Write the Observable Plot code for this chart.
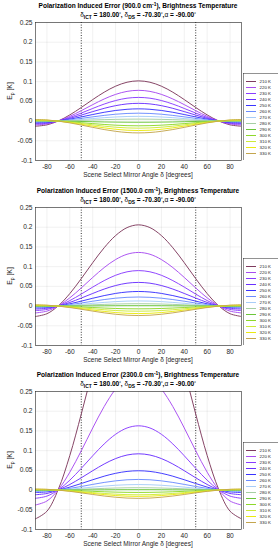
<!DOCTYPE html>
<html><head><meta charset="utf-8">
<script src="https://cdn.jsdelivr.net/npm/d3@7"></script>
<script src="https://cdn.jsdelivr.net/npm/@observablehq/plot@0.6"></script>
<style>
body{margin:0;background:#fff;}
#root{position:relative;width:278px;height:550px;overflow:hidden;font-family:"Liberation Sans",Arial,Helvetica,sans-serif;color:#000;background:#fff;}
.t{position:absolute;white-space:nowrap;line-height:1;transform:translate(-50%,-50%);}
.title{font-weight:bold;font-size:6.55px;color:#000;}
.xl{font-size:6.5px;color:#262626;}
.yl{font-size:6.8px;color:#262626;transform:translate(-50%,-50%) rotate(-90deg);}
sub{font-size:75%;vertical-align:-0.4em;line-height:0;}
.abs{position:absolute;}
</style></head><body><div id="root"></div>
<script>
// ---- data ----
const angles = [-90,-80,-70,-60,-50,-40,-30,-20,-10,0,10,20,30,40,50,60,70,80,90];
const temps = ["210 K","220 K","230 K","240 K","250 K","260 K","270 K","280 K","290 K","300 K","310 K","320 K","330 K"];
const tempColors = ["#7f3b5e","#a84cf0","#8a3cff","#6a30ff","#3a34ff","#6b8cff","#a8cdf8","#a6cfa3","#6cc63a","#8ed82a","#cdea3a","#eaea10","#c4a64e"];
const xTicks = [-80,-60,-40,-20,0,20,40,60,80];
const yTicks = [-0.1,-0.05,0,0.05,0.1,0.15,0.2,0.25];
const dsAngles = [-50, 50];
const wavenumbers = ["900.0","1500.0","2300.0"];

const err900 = [
 [-0.0131,-0.0096,0.0004,0.0157,0.0345,0.0545,0.0732,0.0885,0.0985,0.102,0.0985,0.0885,0.0732,0.0545,0.0345,0.0157,0.0004,-0.0096,-0.0131],
 [-0.0100,-0.0073,0.0003,0.0120,0.0264,0.0417,0.0560,0.0677,0.0753,0.078,0.0753,0.0677,0.0560,0.0417,0.0264,0.0120,0.0003,-0.0073,-0.0100],
 [-0.0077,-0.0056,0.0002,0.0092,0.0203,0.0320,0.0431,0.0521,0.0580,0.060,0.0580,0.0521,0.0431,0.0320,0.0203,0.0092,0.0002,-0.0056,-0.0077],
 [-0.0058,-0.0042,0.0002,0.0069,0.0152,0.0240,0.0323,0.0391,0.0435,0.045,0.0435,0.0391,0.0323,0.0240,0.0152,0.0069,0.0002,-0.0042,-0.0058],
 [-0.0040,-0.0029,0.0001,0.0048,0.0105,0.0166,0.0223,0.0269,0.0299,0.031,0.0299,0.0269,0.0223,0.0166,0.0105,0.0048,0.0001,-0.0029,-0.0040],
 [-0.0026,-0.0019,0.0001,0.0031,0.0068,0.0107,0.0144,0.0174,0.0193,0.020,0.0193,0.0174,0.0144,0.0107,0.0068,0.0031,0.0001,-0.0019,-0.0026],
 [-0.0015,-0.0011,0.0000,0.0018,0.0041,0.0064,0.0086,0.0104,0.0116,0.012,0.0116,0.0104,0.0086,0.0064,0.0041,0.0018,0.0000,-0.0011,-0.0015],
 [-0.0006,-0.0005,0.0000,0.0008,0.0017,0.0027,0.0036,0.0043,0.0048,0.005,0.0048,0.0043,0.0036,0.0027,0.0017,0.0008,0.0000,-0.0005,-0.0006],
 [0.0004,0.0003,0.0000,-0.0005,-0.0010,-0.0016,-0.0022,-0.0026,-0.0029,-0.003,-0.0029,-0.0026,-0.0022,-0.0016,-0.0010,-0.0005,0.0000,0.0003,0.0004],
 [0.0015,0.0011,0.0000,-0.0018,-0.0041,-0.0064,-0.0086,-0.0104,-0.0116,-0.012,-0.0116,-0.0104,-0.0086,-0.0064,-0.0041,-0.0018,0.0000,0.0011,0.0015],
 [0.0023,0.0017,-0.0001,-0.0028,-0.0061,-0.0096,-0.0129,-0.0156,-0.0174,-0.018,-0.0174,-0.0156,-0.0129,-0.0096,-0.0061,-0.0028,-0.0001,0.0017,0.0023],
 [0.0031,0.0023,-0.0001,-0.0037,-0.0081,-0.0128,-0.0172,-0.0208,-0.0232,-0.024,-0.0232,-0.0208,-0.0172,-0.0128,-0.0081,-0.0037,-0.0001,0.0023,0.0031],
 [0.0038,0.0028,-0.0001,-0.0046,-0.0101,-0.0160,-0.0215,-0.0260,-0.0290,-0.030,-0.0290,-0.0260,-0.0215,-0.0160,-0.0101,-0.0046,-0.0001,0.0028,0.0038]
];
const err1500 = [
 [-0.0264,-0.0194,0.0008,0.0317,0.0696,0.1100,0.1479,0.1788,0.1990,0.206,0.1990,0.1788,0.1479,0.1100,0.0696,0.0317,0.0008,-0.0194,-0.0264],
 [-0.0174,-0.0128,0.0005,0.0209,0.0460,0.0726,0.0976,0.1180,0.1314,0.136,0.1314,0.1180,0.0976,0.0726,0.0460,0.0209,0.0005,-0.0128,-0.0174],
 [-0.0115,-0.0085,0.0004,0.0139,0.0304,0.0481,0.0646,0.0781,0.0869,0.090,0.0869,0.0781,0.0646,0.0481,0.0304,0.0139,0.0004,-0.0085,-0.0115],
 [-0.0077,-0.0056,0.0002,0.0092,0.0203,0.0320,0.0431,0.0521,0.0580,0.060,0.0580,0.0521,0.0431,0.0320,0.0203,0.0092,0.0002,-0.0056,-0.0077],
 [-0.0047,-0.0035,0.0001,0.0057,0.0125,0.0198,0.0266,0.0321,0.0357,0.037,0.0357,0.0321,0.0266,0.0198,0.0125,0.0057,0.0001,-0.0035,-0.0047],
 [-0.0029,-0.0022,0.0001,0.0035,0.0078,0.0123,0.0165,0.0200,0.0222,0.023,0.0222,0.0200,0.0165,0.0123,0.0078,0.0035,0.0001,-0.0022,-0.0029],
 [-0.0017,-0.0012,0.0001,0.0020,0.0044,0.0069,0.0093,0.0113,0.0126,0.013,0.0126,0.0113,0.0093,0.0069,0.0044,0.0020,0.0001,-0.0012,-0.0017],
 [-0.0008,-0.0006,0.0000,0.0009,0.0020,0.0032,0.0043,0.0052,0.0058,0.006,0.0058,0.0052,0.0043,0.0032,0.0020,0.0009,0.0000,-0.0006,-0.0008],
 [-0.0001,-0.0001,0.0000,0.0002,0.0003,0.0005,0.0007,0.0009,0.0010,0.001,0.0010,0.0009,0.0007,0.0005,0.0003,0.0002,0.0000,-0.0001,-0.0001],
 [0.0009,0.0007,0.0000,-0.0011,-0.0024,-0.0037,-0.0050,-0.0061,-0.0068,-0.007,-0.0068,-0.0061,-0.0050,-0.0037,-0.0024,-0.0011,0.0000,0.0007,0.0009],
 [0.0017,0.0012,-0.0001,-0.0020,-0.0044,-0.0069,-0.0093,-0.0113,-0.0126,-0.013,-0.0126,-0.0113,-0.0093,-0.0069,-0.0044,-0.0020,-0.0001,0.0012,0.0017],
 [0.0024,0.0018,-0.0001,-0.0029,-0.0064,-0.0101,-0.0136,-0.0165,-0.0184,-0.019,-0.0184,-0.0165,-0.0136,-0.0101,-0.0064,-0.0029,-0.0001,0.0018,0.0024],
 [0.0031,0.0023,-0.0001,-0.0037,-0.0081,-0.0128,-0.0172,-0.0208,-0.0232,-0.024,-0.0232,-0.0208,-0.0172,-0.0128,-0.0081,-0.0037,-0.0001,0.0023,0.0031]
];
const err2300 = [
 [-0.0730,-0.0536,0.0023,0.0878,0.1927,0.3044,0.4093,0.4948,0.5506,0.570,0.5506,0.4948,0.4093,0.3044,0.1927,0.0878,0.0023,-0.0536,-0.0730],
 [-0.0378,-0.0277,0.0012,0.0454,0.0997,0.1575,0.2118,0.2561,0.2850,0.295,0.2850,0.2561,0.2118,0.1575,0.0997,0.0454,0.0012,-0.0277,-0.0378],
 [-0.0209,-0.0153,0.0007,0.0251,0.0551,0.0870,0.1170,0.1415,0.1575,0.163,0.1575,0.1415,0.1170,0.0870,0.0551,0.0251,0.0007,-0.0153,-0.0209],
 [-0.0118,-0.0086,0.0004,0.0142,0.0311,0.0491,0.0661,0.0799,0.0889,0.092,0.0889,0.0799,0.0661,0.0491,0.0311,0.0142,0.0004,-0.0086,-0.0118],
 [-0.0063,-0.0046,0.0002,0.0075,0.0166,0.0262,0.0352,0.0425,0.0473,0.049,0.0473,0.0425,0.0352,0.0262,0.0166,0.0075,0.0002,-0.0046,-0.0063],
 [-0.0035,-0.0025,0.0001,0.0042,0.0091,0.0144,0.0194,0.0234,0.0261,0.027,0.0261,0.0234,0.0194,0.0144,0.0091,0.0042,0.0001,-0.0025,-0.0035],
 [-0.0018,-0.0013,0.0001,0.0022,0.0047,0.0075,0.0101,0.0122,0.0135,0.014,0.0135,0.0122,0.0101,0.0075,0.0047,0.0022,0.0001,-0.0013,-0.0018],
 [-0.0008,-0.0006,0.0000,0.0009,0.0020,0.0032,0.0043,0.0052,0.0058,0.006,0.0058,0.0052,0.0043,0.0032,0.0020,0.0009,0.0000,-0.0006,-0.0008],
 [-0.0001,-0.0001,0.0000,0.0002,0.0003,0.0005,0.0007,0.0009,0.0010,0.001,0.0010,0.0009,0.0007,0.0005,0.0003,0.0002,0.0000,-0.0001,-0.0001],
 [0.0008,0.0006,0.0000,-0.0009,-0.0020,-0.0032,-0.0043,-0.0052,-0.0058,-0.006,-0.0058,-0.0052,-0.0043,-0.0032,-0.0020,-0.0009,0.0000,0.0006,0.0008],
 [0.0015,0.0011,0.0000,-0.0018,-0.0041,-0.0064,-0.0086,-0.0104,-0.0116,-0.012,-0.0116,-0.0104,-0.0086,-0.0064,-0.0041,-0.0018,0.0000,0.0011,0.0015],
 [0.0020,0.0015,-0.0001,-0.0025,-0.0054,-0.0085,-0.0115,-0.0139,-0.0155,-0.016,-0.0155,-0.0139,-0.0115,-0.0085,-0.0054,-0.0025,-0.0001,0.0015,0.0020],
 [0.0027,0.0020,-0.0001,-0.0032,-0.0071,-0.0112,-0.0151,-0.0182,-0.0203,-0.021,-0.0203,-0.0182,-0.0151,-0.0112,-0.0071,-0.0032,-0.0001,0.0020,0.0027]
];
const panelErrors = [err900, err1500, err2300];

// ---- layout ----
const W = 278, mL = 35, mR = 37, plotH = 138, mT = 2, mB = 22;
const plotTops = [21.5, 206.5, 390.5];
const root = document.getElementById("root");

function addText(cls, html, x, y) {
  const d = document.createElement("div");
  d.className = "t " + cls;
  d.innerHTML = html;
  d.style.left = x + "px";
  d.style.top = y + "px";
  root.appendChild(d);
  return d;
}

const fmtY = d => String(Math.round(d * 100) / 100);

panelErrors.forEach((errs, p) => {
  const rows = [];
  errs.forEach((vals, i) => vals.forEach((v, j) => rows.push({angle: angles[j], value: v, temp: temps[i]})));
  const top = plotTops[p];
  const chart = Plot.plot({
    width: W, height: mT + plotH + mB,
    marginLeft: mL, marginRight: mR, marginTop: mT, marginBottom: mB,
    style: {fontFamily: '"Liberation Sans", Arial, sans-serif', fontSize: "6.6px", color: "#262626", background: "transparent"},
    x: {domain: [-90, 90]},
    y: {domain: [-0.1, 0.25]},
    color: {domain: temps, range: tempColors},
    marks: [
      Plot.gridX(xTicks, {stroke: "#000", strokeOpacity: 0.1, strokeWidth: 0.6}),
      Plot.gridY(yTicks, {stroke: "#000", strokeOpacity: 0.1, strokeWidth: 0.6}),
      Plot.ruleX(dsAngles, {stroke: "#000", strokeWidth: 0.8, strokeDasharray: "1,1.6"}),
      Plot.line(rows, {x: "angle", y: "value", z: "temp", stroke: "temp", curve: "catmull-rom", strokeWidth: 0.95, clip: true}),
      Plot.frame({stroke: "#262626", strokeWidth: 0.6}),
      Plot.axisX(xTicks, {tickSize: 0, tickPadding: 4, label: null, tickFormat: d => String(d)}),
      Plot.axisY(yTicks, {tickSize: 0, tickPadding: 3, label: null, tickFormat: fmtY})
    ]
  });
  chart.style.position = "absolute";
  chart.style.left = "0px";
  chart.style.top = (top - mT) + "px";
  root.appendChild(chart);

  // legend (line-sample legend drawn with Plot scales)
  const legH = 87, legW = 36;
  const legend = Plot.plot({
    width: legW, height: legH, margin: 0,
    style: {fontFamily: '"Liberation Sans", Arial, sans-serif', fontSize: "4.4px", color: "#262626", background: "#fff"},
    x: {domain: [0, legW], range: [0, legW], axis: null},
    y: {type: "point", domain: temps, range: [4, legH - 4], axis: null},
    color: {domain: temps, range: tempColors},
    marks: [
      Plot.frame({stroke: "#262626", strokeWidth: 0.5}),
      Plot.ruleY(temps, {y: d => d, x1: 3, x2: 13, stroke: d => d, strokeWidth: 1}),
      Plot.text(temps, {y: d => d, x: 16, text: d => d, textAnchor: "start", fill: "#262626"})
    ]
  });
  legend.style.position = "absolute";
  legend.style.left = "243px";
  legend.style.top = (top + plotH - legH) + "px";
  root.appendChild(legend);

  // texts
  const cx = mL + (W - mL - mR) / 2;
  addText("title", "Polarization Induced Error (" + wavenumbers[p] + " cm<sup style='font-size:75%;vertical-align:0.45em;line-height:0'>-1</sup>), Brightness Temperature", cx, top - 15.5);
  addText("title", "<span style='font-weight:normal'>δ</span><sub>ICT</sub> = 180.00<sup style='font-size:60%;vertical-align:0.5em;line-height:0'>°</sup>, <span style='font-weight:normal'>δ</span><sub>DS</sub> = -70.30<sup style='font-size:60%;vertical-align:0.5em;line-height:0'>°</sup>,<span style='font-weight:normal'>α</span> = -90.00<sup style='font-size:60%;vertical-align:0.5em;line-height:0'>°</sup>", cx, top - 6.5);
  addText("xl", "Scene Select Mirror Angle <span>δ</span> [degrees]", cx, top + plotH + 15.5);
  addText("yl", "E<sub>p</sub> [K]", 10, top + plotH / 2);
});
</script></body></html>
